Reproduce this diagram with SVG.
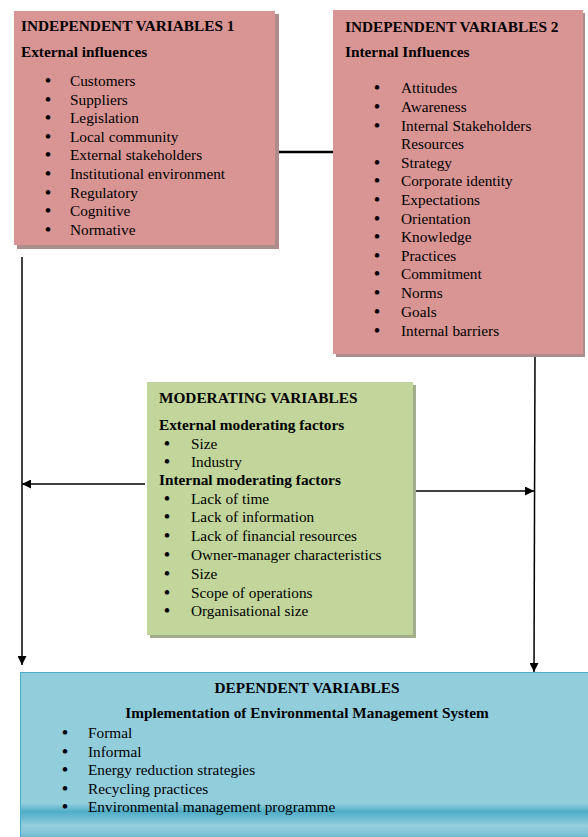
<svg xmlns="http://www.w3.org/2000/svg" width="588" height="837" viewBox="0 0 588 837">
<style>
text{font-family:"Liberation Serif","Times New Roman",serif;font-size:15.3px;fill:#000}
.b{font-weight:bold}
.c{text-anchor:middle}
.u{font-size:17px;font-weight:bold}
.pink{fill:#d99594}
.pinks{fill:#ad8c8c}
.green{fill:#c2d69b}
.greens{fill:#a3ad8c}
.ln{stroke:#000;stroke-width:1.5;fill:none}
</style>
<defs>
<marker id="ah" viewBox="0 0 10 10" refX="10" refY="5" markerWidth="6" markerHeight="6" orient="auto" markerUnits="strokeWidth">
<path d="M0,0 L10,5 L0,10 z" fill="#000"/>
</marker>
<linearGradient id="bg" x1="0" y1="0" x2="0" y2="1">
<stop offset="0" stop-color="#92cddc"/>
<stop offset="0.77" stop-color="#92cddc"/>
<stop offset="0.82" stop-color="#4fadc7"/>
<stop offset="0.90" stop-color="#93cedd"/>
<stop offset="0.95" stop-color="#7fc3d5"/>
<stop offset="1" stop-color="#4bacc6"/>
</linearGradient>
</defs>

<g id="connectors">
<line x1="276" y1="152" x2="333" y2="152" stroke="#000" stroke-width="2.5"/>
<line class="ln" x1="22" y1="257" x2="22" y2="665" marker-end="url(#ah)"/>
<line class="ln" x1="535" y1="357" x2="534" y2="672" marker-end="url(#ah)"/>
<line class="ln" x1="145" y1="484" x2="22" y2="484" marker-end="url(#ah)"/>
<line class="ln" x1="415" y1="491" x2="534" y2="491" marker-end="url(#ah)"/>
</g>

<g id="independent1">
<rect class="pinks" x="17" y="14" width="262" height="235"/>
<rect class="pink" x="14" y="11" width="261" height="234"/>
<text class="b" x="21" y="31">INDEPENDENT VARIABLES 1</text>
<text class="b" x="21" y="57">External influences</text>
<g>
<text class="u" x="45" y="86">•</text><text x="70" y="86">Customers</text>
<text class="u" x="45" y="104.6">•</text><text x="70" y="104.6">Suppliers</text>
<text class="u" x="45" y="123.2">•</text><text x="70" y="123.2">Legislation</text>
<text class="u" x="45" y="141.8">•</text><text x="70" y="141.8">Local community</text>
<text class="u" x="45" y="160.4">•</text><text x="70" y="160.4">External stakeholders</text>
<text class="u" x="45" y="179">•</text><text x="70" y="179">Institutional environment</text>
<text class="u" x="45" y="197.6">•</text><text x="70" y="197.6">Regulatory</text>
<text class="u" x="45" y="216.2">•</text><text x="70" y="216.2">Cognitive</text>
<text class="u" x="45" y="234.8">•</text><text x="70" y="234.8">Normative</text>
</g>
</g>

<g id="independent2">
<rect class="pinks" x="336" y="13" width="249" height="344"/>
<rect class="pink" x="333" y="10" width="250" height="344"/>
<text class="b" x="345" y="32">INDEPENDENT VARIABLES 2</text>
<text class="b" x="345" y="57">Internal Influences</text>
<g>
<text class="u" x="374" y="93">•</text><text x="401" y="93">Attitudes</text>
<text class="u" x="374" y="112">•</text><text x="401" y="112">Awareness</text>
<text class="u" x="374" y="131">•</text><text x="401" y="131">Internal Stakeholders</text>
<text x="401" y="149">Resources</text>
<text class="u" x="374" y="168">•</text><text x="401" y="168">Strategy</text>
<text class="u" x="374" y="186">•</text><text x="401" y="186">Corporate identity</text>
<text class="u" x="374" y="205">•</text><text x="401" y="205">Expectations</text>
<text class="u" x="374" y="224">•</text><text x="401" y="224">Orientation</text>
<text class="u" x="374" y="242">•</text><text x="401" y="242">Knowledge</text>
<text class="u" x="374" y="261">•</text><text x="401" y="261">Practices</text>
<text class="u" x="374" y="279">•</text><text x="401" y="279">Commitment</text>
<text class="u" x="374" y="298">•</text><text x="401" y="298">Norms</text>
<text class="u" x="374" y="317">•</text><text x="401" y="317">Goals</text>
<text class="u" x="374" y="336">•</text><text x="401" y="336">Internal barriers</text>
</g>
</g>

<g id="moderating">
<rect class="greens" x="150" y="385" width="266" height="253"/>
<rect class="green" x="147" y="382" width="266" height="253"/>
<text class="b" x="159" y="403">MODERATING VARIABLES</text>
<text class="b" x="159" y="430">External moderating factors</text>
<text class="u" x="164" y="449">•</text><text x="191" y="449">Size</text>
<text class="u" x="164" y="467">•</text><text x="191" y="467">Industry</text>
<text class="b" x="159" y="485">Internal moderating factors</text>
<text class="u" x="164" y="504">•</text><text x="191" y="504">Lack of time</text>
<text class="u" x="164" y="522">•</text><text x="191" y="522">Lack of information</text>
<text class="u" x="164" y="541">•</text><text x="191" y="541">Lack of financial resources</text>
<text class="u" x="164" y="560">•</text><text x="191" y="560">Owner-manager characteristics</text>
<text class="u" x="164" y="579">•</text><text x="191" y="579">Size</text>
<text class="u" x="164" y="598">•</text><text x="191" y="598">Scope of operations</text>
<text class="u" x="164" y="616">•</text><text x="191" y="616">Organisational size</text>
</g>

<g id="dependent">
<rect x="20.5" y="672.5" width="580" height="170" fill="url(#bg)" stroke="#4bacc6" stroke-width="1"/>
<text class="b c" x="307" y="693">DEPENDENT VARIABLES</text>
<text class="b c" x="307" y="718">Implementation of Environmental Management System</text>
<text class="u" x="62" y="738">•</text><text x="88" y="738">Formal</text>
<text class="u" x="62" y="757">•</text><text x="88" y="757">Informal</text>
<text class="u" x="62" y="775">•</text><text x="88" y="775">Energy reduction strategies</text>
<text class="u" x="62" y="794">•</text><text x="88" y="794">Recycling practices</text>
<text class="u" x="62" y="812">•</text><text x="88" y="812">Environmental management programme</text>
</g>
</svg>
